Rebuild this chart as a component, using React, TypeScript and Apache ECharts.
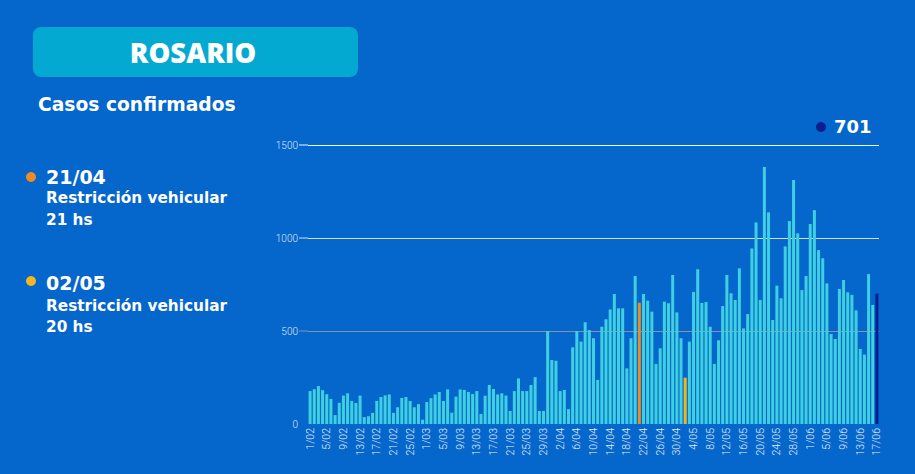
import React, { useEffect, useRef } from "react";
import * as echarts from "echarts";

const monthSpans: [string, number][] = [["02", 28], ["03", 31], ["04", 30], ["05", 31], ["06", 17]];
const categories: string[] = monthSpans.flatMap(([m, n]) =>
  Array.from({ length: n }, (_, i) => `${i + 1}/${m}`)
);

const casos: number[] = [
  177, 187, 204, 182, 160, 135, 48, 114, 153, 165,
  124, 113, 153, 37, 42, 60, 124, 145, 154, 159,
  60, 90, 140, 145, 124, 90, 107, 23, 118, 139,
  159, 172, 124, 186, 61, 147, 186, 183, 172, 161,
  177, 54, 152, 210, 188, 159, 165, 153, 70, 177,
  245, 177, 177, 210, 252, 70, 70, 500, 344, 340,
  177, 183, 80, 412, 500, 443, 547, 505, 461, 237,
  523, 563, 616, 699, 622, 622, 299, 461, 796, 652,
  699, 663, 604, 323, 407, 658, 649, 801, 600, 461,
  249, 443, 710, 832, 651, 656, 523, 323, 450, 634,
  801, 703, 667, 837, 514, 591, 944, 1084, 667, 1382,
  1138, 559, 744, 676, 955, 1091, 1312, 1025, 720, 796,
  1075, 1150, 935, 891, 756, 484, 457, 726, 774, 708,
  694, 611, 403, 373, 806, 640, 701,
];

const yTicks = [0, 500, 1000, 1500];
const orangeDate = "21/04";
const yellowDate = "2/05";

const BG = "#0566cc";
const BAR = "#3fd0e0";
const ORANGE = "#ef8a25";
const YELLOW = "#f3b61c";
const DARK = "#0b1e8e";
const TITLE_FONT = "'Open Sans', 'Noto Sans', sans-serif";
const FONT = "'DejaVu Sans', 'Open Sans', sans-serif";

export default function App() {
  const ref = useRef<HTMLDivElement>(null);
  useEffect(() => {
    if (!ref.current) return;
    const chart = echarts.init(ref.current, null, { renderer: "svg" });
    const lastIdx = casos.length - 1;
    const data = casos.map((v, i) => {
      let color = BAR;
      if (categories[i] === orangeDate) color = ORANGE;
      else if (categories[i] === yellowDate) color = YELLOW;
      else if (i === lastIdx) color = DARK;
      return { value: v, itemStyle: { color } };
    });

    const txt = (text: string, x: number, y: number, size: number, extra: any = {}) => ({
      type: "text",
      x,
      y,
      style: { text, fill: "#fff", font: `700 ${size}px ${FONT}`, verticalAlign: "middle", ...extra },
    });

    const baseGraphic: any[] = [
      {
        type: "rect",
        shape: { x: 33, y: 27, width: 325, height: 50, r: 8 },
        style: { fill: "#04a9d2" },
      },
      {
        type: "text",
        x: 193, y: 52,
        style: { text: "ROSARIO", fill: "#fff", font: `800 27.5px ${TITLE_FONT}`, align: "center", verticalAlign: "middle" },
      },
      txt("Casos confirmados", 38, 104, 18.7),
      { type: "circle", shape: { cx: 31, cy: 177, r: 5 }, style: { fill: ORANGE } },
      txt("21/04", 46, 177, 19),
      txt("Restricción vehicular", 46, 198, 15.3),
      txt("21 hs", 46, 220, 15.3),
      { type: "circle", shape: { cx: 31, cy: 281, r: 5 }, style: { fill: YELLOW } },
      txt("02/05", 46, 283, 19),
      txt("Restricción vehicular", 46, 306, 15.3),
      txt("20 hs", 46, 327, 15.3),
      { type: "circle", shape: { cx: 821, cy: 127, r: 5 }, style: { fill: DARK } },
      txt(String(casos[lastIdx]), 834, 126, 18),
    ];

    const lineColors = ["rgba(0,0,0,0)", "#8a93a6", "#d5dfec", "#f2f6fb"];

    chart.setOption({
      animation: false,
      backgroundColor: BG,
      grid: { left: 308, top: 145, width: 571, height: 279, containLabel: false },
      xAxis: {
        type: "category",
        data: categories,
        boundaryGap: true,
        axisLine: { show: false },
        axisTick: { show: false },
        axisLabel: {
          interval: 3,
          rotate: 90,
          color: "#e8f0fa",
          fontSize: 10.5,
          fontFamily: "Roboto, sans-serif",
          fontWeight: 300,
          margin: 4,
        },
      },
      yAxis: {
        type: "value",
        min: 0,
        max: 1500,
        interval: 500,
        axisLine: { show: false },
        axisTick: { show: false },
        axisLabel: {
          color: "#dfe8f5",
          fontSize: 10,
          fontFamily: "Roboto, sans-serif",
          fontWeight: 300,
          margin: 10,
          formatter: (v: number) => String(v),
        },
        splitLine: { show: true, lineStyle: { color: lineColors, width: 1 } },
      },
      series: [
        {
          type: "bar",
          data,
          barCategoryGap: "28%",
        },
      ],
      graphic: baseGraphic,
    });

    const stubs = yTicks
      .filter((t) => t > 0)
      .map((t) => {
        const y = chart.convertToPixel({ yAxisIndex: 0 }, t) as number;
        return {
          type: "line",
          shape: { x1: 299, y1: y, x2: 308, y2: y },
          style: { stroke: lineColors[yTicks.indexOf(t)], lineWidth: 1 },
        };
      });
    chart.setOption({ graphic: [...baseGraphic, ...stubs] });

    return () => chart.dispose();
  }, []);

  return (
    <div
      ref={ref}
      style={{ position: "fixed", left: 0, top: 0, width: 915, height: 474 }}
    />
  );
}
